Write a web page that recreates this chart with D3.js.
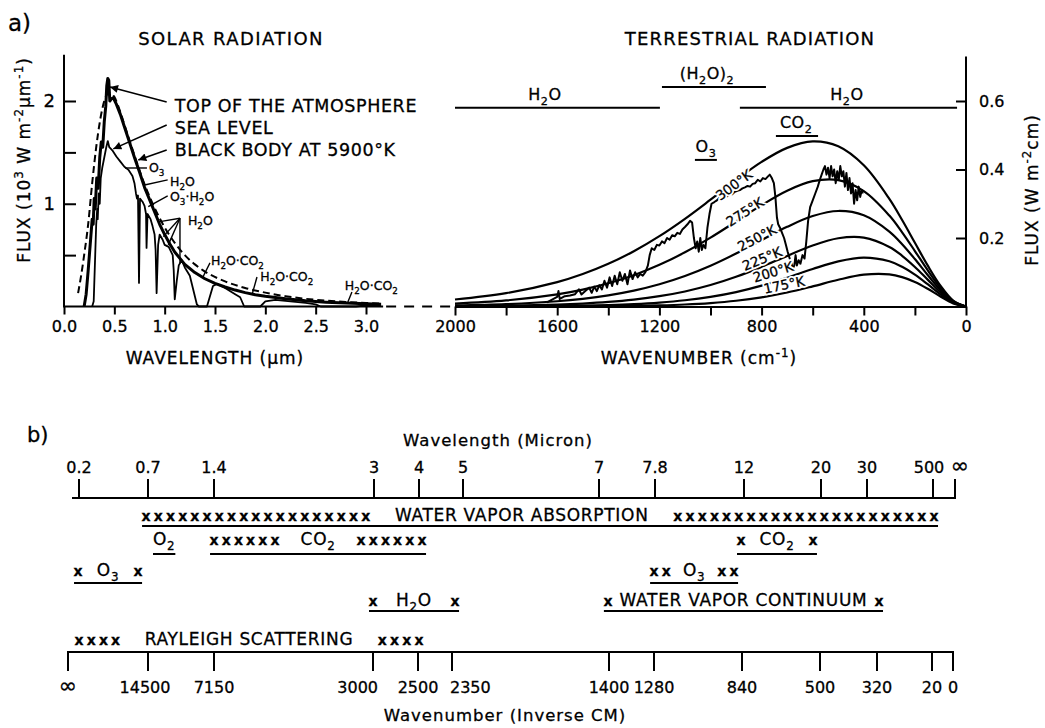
<!DOCTYPE html>
<html>
<head>
<meta charset="utf-8">
<script src="https://d3js.org/d3.v7.min.js"></script>
<style>
body { margin: 0; background: #fff; }
svg text {
  font-family: "DejaVu Sans", Verdana, sans-serif;
  fill: #000;
  stroke: #000;
  stroke-width: 0.3px;
}
svg text.halo { fill: #fff; stroke: #fff; stroke-width: 4px; stroke-linejoin: round; }
</style>
</head>
<body>
<svg width="1045" height="728"></svg>
<script>

// ---------------- data ----------------

// a) solar radiation, wavelength (µm) vs flux (10^3 W m-2 µm-1)
var solarTicks = [0, 0.5, 1, 1.5, 2, 2.5, 3];
var solarFluxTicks = [0.5, 1, 1.5, 2];

var toaSpectrum = [[0.20,0],[0.22,0.12],[0.24,0.35],[0.26,0.6],[0.28,0.85],[0.29,0.8],[0.30,1.05],[0.31,0.95],
  [0.325,1.25],[0.34,1.15],[0.355,1.45],[0.37,1.6],[0.385,1.55],[0.40,1.8],[0.415,1.95],[0.425,2.15],[0.435,2.22],
  [0.445,2.2],[0.455,2.0],[0.47,2.02],[0.49,2.03],[0.52,1.97],[0.56,1.87],[0.60,1.75],[0.65,1.6],[0.70,1.45],
  [0.75,1.31],[0.80,1.16],[0.85,1.04],[0.90,0.92],[0.95,0.8],[1.0,0.7],[1.05,0.61],[1.1,0.53],[1.2,0.41],
  [1.3,0.33],[1.4,0.27],[1.5,0.225],[1.6,0.19],[1.7,0.16],[1.8,0.135],[1.9,0.115],[2.0,0.1],[2.2,0.075],
  [2.4,0.055],[2.6,0.042],[2.8,0.033],[3.0,0.026],[3.15,0.022]];

var seaLevelSpectrum = [[0.28,0],[0.295,0.05],[0.30,0.2],[0.31,0.5],[0.32,0.8],[0.33,0.95],[0.335,0.85],[0.345,1.1],
  [0.355,1.0],[0.365,1.25],[0.38,1.35],[0.40,1.45],[0.42,1.55],[0.435,1.61],[0.45,1.55],[0.48,1.52],[0.52,1.46],
  [0.56,1.41],[0.60,1.36],[0.64,1.33],[0.68,1.27],[0.70,1.2],[0.715,1.1],[0.725,1.05],[0.735,1.08],[0.745,0.23],
  [0.755,1.05],[0.78,1.02],[0.80,0.98],[0.815,0.9],[0.82,0.57],[0.83,0.9],[0.86,0.85],[0.88,0.78],[0.90,0.7],
  [0.91,0.55],[0.92,0.13],[0.935,0.6],[0.95,0.7],[0.98,0.65],[1.0,0.6],[1.04,0.58],[1.08,0.5],[1.09,0.35],
  [1.10,0.07],[1.12,0.25],[1.14,0.4],[1.17,0.45],[1.2,0.38],[1.25,0.3],[1.32,0.02],[1.34,0],[1.42,0],[1.48,0.2],
  [1.52,0.22],[1.6,0.18],[1.7,0.12],[1.75,0.09],[1.79,0],[1.95,0],[2.0,0.05],[2.1,0.065],[2.2,0.055],[2.3,0.045],
  [2.4,0.035],[2.5,0.02],[2.55,0],[2.9,0],[3.0,0.01],[3.15,0.01]];

var blackBody5900 = [[0.14,0.13],[0.17,0.3],[0.20,0.5],[0.24,0.8],[0.28,1.2],[0.32,1.55],[0.36,1.82],[0.40,2.0],
  [0.45,2.08],[0.50,2.04],[0.55,1.92],[0.60,1.77],[0.70,1.47],[0.80,1.19],[0.90,0.96],[1.0,0.77],[1.1,0.62],
  [1.2,0.5],[1.3,0.41],[1.4,0.34],[1.6,0.245],[1.8,0.18],[2.0,0.135],[2.2,0.1],[2.4,0.075],[2.6,0.057],
  [2.8,0.044],[3.0,0.034],[3.15,0.028]];

// a) terrestrial radiation, wavenumber (cm-1) vs flux (W m-2 cm)
var irTicks = [2000, 1800, 1600, 1400, 1200, 1000, 800, 600, 400, 200, 0];
var irLabelled = [2000, 1600, 1200, 800, 400, 0];
var irFluxTicks = [0.2, 0.4, 0.6];

var planckNu = [0,50,100,150,200,250,300,400,500,600,700,800,900,1000,1100,1200,1300,1400,1500,1600,1800,2000];
var planck300 = [0,0.0173,0.0608,0.1199,0.1860,0.2524,0.3142,0.4122,0.4677,0.4819,0.4632,0.4222,0.3690,0.3118,0.2561,0.2054,0.1614,0.1247,0.0949,0.0713,0.0389,0.0204];
var planck275 = [0,0.0156,0.0544,0.1059,0.1620,0.2166,0.2655,0.3369,0.3689,0.3659,0.3381,0.2959,0.2482,0.2010,0.1582,0.1216,0.0915,0.0677,0.0494,0.0355,0.0177,0.0086];
var planck250 = [0,0.0140,0.0481,0.0921,0.1385,0.1818,0.2186,0.2662,0.2789,0.2641,0.2326,0.1937,0.1545,0.1189,0.0889,0.0648,0.0463,0.0325,0.0225,0.0154,0.0069,0.0030];
var planck225 = [0,0.0124,0.0418,0.0785,0.1155,0.1481,0.1739,0.2011,0.1993,0.1781,0.1477,0.1157,0.0867,0.0626,0.0439,0.0301,0.0202,0.0133,0.0086,0.0055,0.0022,0.0008];
var planck200 = [0,0.0108,0.0355,0.0650,0.0931,0.1160,0.1320,0.1428,0.1318,0.1093,0.0840,0.0609,0.0421,0.0281,0.0182,0.0115,0.0071,0.0043,0.0026,0.0015,0.0005,0.0002];
var planck175 = [0,0.0092,0.0293,0.0519,0.0717,0.0859,0.0937,0.0928,0.0780,0.0587,0.0408,0.0267,0.0167,0.0101,0.0059,0.0034,0.0019,0.0010,0.0006,0.0003,0.0001,0];
var planckTemps = ["300°K", "275°K", "250°K", "225°K", "200°K", "175°K"];
// label anchors (cm-1, flux) as they sit on the chart
var planckLabelNu = [908, 865, 818, 798, 755, 712];
var planckLabelF  = [0.355, 0.276, 0.200, 0.139, 0.101, 0.063];

var observedSpectrum = [[1640,0.012],[1620,0.02],[1600,0.028],[1595,0.045],[1590,0.022],[1570,0.03],[1550,0.032],
  [1530,0.036],[1515,0.05],[1505,0.035],[1490,0.045],[1475,0.055],[1465,0.04],[1455,0.058],[1445,0.045],[1435,0.062],
  [1425,0.05],[1415,0.075],[1405,0.055],[1395,0.085],[1385,0.06],[1375,0.09],[1365,0.065],[1355,0.1],[1345,0.075],
  [1335,0.095],[1325,0.065],[1315,0.105],[1305,0.08],[1295,0.1],[1285,0.085],[1275,0.095],[1265,0.09],[1255,0.1],
  [1245,0.12],[1238,0.15],[1230,0.17],[1220,0.165],[1210,0.18],[1200,0.178],[1190,0.19],[1180,0.185],[1170,0.2],
  [1160,0.195],[1150,0.208],[1140,0.205],[1130,0.215],[1120,0.212],[1110,0.225],[1100,0.232],[1090,0.24],[1080,0.25],
  [1072,0.245],[1065,0.2],[1058,0.17],[1052,0.19],[1046,0.16],[1040,0.2],[1034,0.165],[1028,0.18],[1020,0.17],
  [1012,0.23],[1004,0.27],[996,0.3],[985,0.305],[975,0.31],[965,0.318],[955,0.315],[945,0.325],[935,0.322],
  [925,0.33],[915,0.328],[905,0.335],[895,0.338],[885,0.34],[875,0.345],[865,0.348],[855,0.352],[845,0.35],
  [835,0.358],[825,0.36],[815,0.37],[805,0.365],[795,0.375],[785,0.372],[775,0.38],[768,0.385],[760,0.375],
  [752,0.36],[746,0.32],[740,0.26],[735,0.24],[728,0.23],[720,0.215],[712,0.2],[705,0.18],[698,0.16],[690,0.14],
  [684,0.13],[678,0.11],[672,0.12],[667,0.15],[662,0.12],[655,0.135],[648,0.125],[640,0.15],[632,0.14],[625,0.19],
  [618,0.25],[610,0.29],[600,0.31],[590,0.33],[580,0.35],[572,0.37],[565,0.385],[558,0.4],[552,0.41],[546,0.385],
  [540,0.405],[534,0.375],[528,0.41],[522,0.38],[516,0.4],[510,0.36],[504,0.395],[498,0.37],[492,0.41],[486,0.38],
  [480,0.395],[474,0.35],[468,0.39],[462,0.34],[456,0.375],[450,0.33],[444,0.36],[438,0.3],[432,0.34],[426,0.31],
  [420,0.35],[414,0.32],[408,0.34],[404,0.33]];

// absorption band bars over the terrestrial panel (cm-1, flux level)
var irBandLabels = ["H_2O", "(H_2O)_2", "H_2O", "CO_2", "O_3"];
var irBandFrom   = [2000, 1190, 885, 744, 1061];
var irBandTo     = [1198, 783, 35, 579, 975];
var irBandLevel  = [0.58, 0.641, 0.58, 0.498, 0.428];
var irBandText   = [1648, 1014, 466, 665, 1018];

// b) schematic band chart
var wlTickValues = [0.2, 0.7, 1.4, 3, 4, 5, 7, 7.8, 12, 20, 30, 500, 1000];
var wlTickLabels = ["0.2", "0.7", "1.4", "3", "4", "5", "7", "7.8", "12", "20", "30", "500", "∞"];
var wnTickLabels = ["∞", "14500", "7150", "3000", "2500", "2350", "1400", "1280", "840", "500", "320", "20", "0"];

var bandLabels = ["WATER VAPOR ABSORPTION", "O_2", "CO_2", "CO_2", "O_3", "O_3", "H_2O", "WATER VAPOR CONTINUUM", "RAYLEIGH SCATTERING"];
var bandFrom   = [0.657, 0.753, 1.358, 11.67, 0.164, 7.73, 2.95, 7.07, 0.171];   // µm
var bandTo     = [614, 0.99, 4.16, 19.58, 0.657, 11.72, 4.91, 144, 4.09];        // µm
var bandXLeft  = [19, 0, 6, 1, 1, 2, 1, 1, 4];
var bandXRight = [22, 0, 6, 1, 1, 2, 1, 1, 4];
var bandRow    = [0, 1, 1, 1, 2, 2, 3, 3, 4];

// ---------------- layout ----------------
var base = 306.5;
// schematic axes of panel b) are not to any scale: tick spacing as drawn
var wlTickPx = [79, 148, 214, 374, 419, 463, 599, 655, 744, 821, 867, 933, 955];
var wnTickPx = [68, 148, 214, 373, 418, 452, 609, 654, 742, 820, 877, 932, 953];
var wnAnchor = {"3000": ["end", 5], "2350": ["start", -2], "14500": ["middle", -3]};
var rowY = [521, 545, 576, 606, 645];
var rowLine = [526, 554, 583, 611];

var svg = d3.select("svg");

// text with _sub and ^sup markup
function rich(sel, str, size) {
  var re = /([_^])(\{[^}]*\}|.)/g, last = 0, m, parts = [];
  while ((m = re.exec(str))) {
    if (m.index > last) parts.push({t: str.slice(last, m.index), s: 0});
    var t = m[2];
    if (t[0] === "{") t = t.slice(1, -1);
    parts.push({t: t, s: m[1] === "_" ? 1 : -1});
    last = re.lastIndex;
  }
  if (last < str.length) parts.push({t: str.slice(last), s: 0});
  var cur = 0;
  parts.forEach(function(p) {
    var target = p.s === 1 ? size * 0.3 : p.s === -1 ? -size * 0.42 : 0;
    var ts = sel.append("tspan").attr("dy", target - cur).text(p.t);
    if (p.s) ts.style("font-size", (size * 0.7) + "px");
    cur = target;
  });
  return sel;
}

function label(x, y, str, size, anchor, spacing) {
  var t = svg.append("text").attr("x", x).attr("y", y)
    .style("font-size", size + "px")
    .style("letter-spacing", (spacing == null ? 0.8 : spacing) + "px")
    .attr("text-anchor", anchor || "start");
  return rich(t, str, size);
}

function styleAxis(g, size) {
  g.attr("font-family", null).attr("font-size", null);
  g.selectAll("text").style("font-size", size + "px");
  g.selectAll("line").attr("stroke", "#000").attr("stroke-width", 2);
}

svg.append("defs").append("marker")
    .attr("id", "arrow").attr("viewBox", "0 0 10 10")
    .attr("refX", 10).attr("refY", 5)
    .attr("markerWidth", 12).attr("markerHeight", 8)
    .attr("markerUnits", "userSpaceOnUse")
    .attr("orient", "auto")
  .append("path").attr("d", "M0,0L10,5L0,10z").attr("fill", "#000");

// ================= panel a) solar =================
var xL = d3.scaleLinear().domain([0, 3]).range([64, 366]);
var yL = d3.scaleLinear().domain([0, 2]).range([base, 101]);

svg.append("g").attr("transform", "translate(0," + base + ")")
  .call(d3.axisBottom(xL).tickValues(solarTicks).tickFormat(d3.format(".1f")).tickSize(8).tickPadding(6))
  .call(function(g) { g.select(".domain").remove(); styleAxis(g, 16); });

svg.append("g").attr("transform", "translate(64,0)")
  .call(d3.axisLeft(yL).tickValues(solarFluxTicks)
    .tickFormat(function(d) { return d % 1 === 0 ? d : ""; })
    .tickSizeInner(-12).tickSizeOuter(0).tickPadding(9))
  .call(function(g) { g.select(".domain").remove(); styleAxis(g, 18); });

svg.append("line").attr("x1", xL(0)).attr("x2", xL(0)).attr("y1", yL(0) + 1).attr("y2", yL(2.45))
  .attr("stroke", "#000").attr("stroke-width", 2);
svg.append("line").attr("x1", xL(0)).attr("x2", xL(3.17)).attr("y1", base).attr("y2", base)
  .attr("stroke", "#000").attr("stroke-width", 2);

var lineL = d3.line().x(function(d) { return xL(d[0]); }).y(function(d) { return yL(d[1]); });

svg.append("path").datum(blackBody5900)
  .attr("d", lineL.curve(d3.curveMonotoneX)).attr("fill", "none")
  .attr("stroke", "#000").attr("stroke-width", 2).attr("stroke-dasharray", "7,4");
lineL.curve(d3.curveLinear);
svg.append("path").datum(seaLevelSpectrum).attr("d", lineL).attr("fill", "none")
  .attr("stroke", "#000").attr("stroke-width", 1.8).attr("stroke-linejoin", "round");
svg.append("path").datum(toaSpectrum).attr("d", lineL).attr("fill", "none")
  .attr("stroke", "#000").attr("stroke-width", 3).attr("stroke-linejoin", "round");

// labels with arrows
var solarLegend = ["TOP OF THE ATMOSPHERE", "SEA LEVEL", "BLACK BODY AT 5900°K"];
var legendF = [1.894, 1.68, 1.465];
var arrowFrom = [[1.02, 1.99], [1.02, 1.767], [1.02, 1.524]];
var arrowTo = [[0.457, 2.137], [0.49, 1.534], [0.738, 1.426]];
solarLegend.forEach(function(s, i) {
  label(xL(1.10), yL(legendF[i]), s, 17.5, "start", 0.6);
  svg.append("line")
    .attr("x1", xL(arrowFrom[i][0])).attr("y1", yL(arrowFrom[i][1]))
    .attr("x2", xL(arrowTo[i][0])).attr("y2", yL(arrowTo[i][1]))
    .attr("stroke", "#000").attr("stroke-width", 1.6).attr("marker-end", "url(#arrow)");
});

var solarNotes = [
  {t: "O_3", at: [0.844, 1.31], lines: [[[0.606, 1.348], [0.824, 1.348]]]},
  {t: "H_2O", at: [1.053, 1.173], lines: [[[1.03, 1.232], [0.80, 1.183]]]},
  {t: "O_3·H_2O", at: [1.053, 1.027], lines: [[[1.03, 1.076], [0.837, 0.972]]]},
  {t: "H_2O", at: [1.231, 0.794], lines: [[[1.152, 0.859], [0.953, 0.826]], [[1.152, 0.859], [0.986, 0.68]],
      [[1.152, 0.859], [1.036, 0.6]], [[1.152, 0.859], [1.152, 0.42]]]},
  {t: "H_2O·CO_2", at: [1.46, 0.405], lines: [[[1.45, 0.424], [1.38, 0.287]]]},
  {t: "H_2O·CO_2", at: [1.95, 0.245], lines: [[[1.917, 0.287], [1.867, 0.112]]]},
  {t: "H_2O·CO_2", at: [2.79, 0.161], lines: [[[2.86, 0.141], [2.82, 0.044]]]}
];
solarNotes.forEach(function(n) {
  label(xL(n.at[0]), yL(n.at[1]), n.t, 12.5, "start", 0);
  n.lines.forEach(function(l) {
    svg.append("line").attr("x1", xL(l[0][0])).attr("y1", yL(l[0][1]))
      .attr("x2", xL(l[1][0])).attr("y2", yL(l[1][1]))
      .attr("stroke", "#000").attr("stroke-width", 1.4);
  });
});

// ================= panel a) terrestrial =================
var xR = d3.scaleLinear().domain([2000, 0]).range([455, 966]);
var yR = d3.scaleLinear().domain([0, 0.6]).range([base, 101]);

// broken-axis dashes between the two panels
svg.append("line").attr("x1", xL(3.17) + 3).attr("x2", xR(2000)).attr("y1", base).attr("y2", base)
  .attr("stroke", "#000").attr("stroke-width", 2).attr("stroke-dasharray", "10,8");

svg.append("g").attr("transform", "translate(0," + base + ")")
  .call(d3.axisBottom(xR).tickValues(irTicks)
    .tickFormat(function(d) { return irLabelled.indexOf(d) >= 0 ? d : ""; })
    .tickSize(9).tickSizeOuter(0).tickPadding(5))
  .call(function(g) { styleAxis(g, 16); g.select(".domain").attr("stroke", "#000").attr("stroke-width", 2); });

svg.append("g").attr("transform", "translate(966,0)")
  .call(d3.axisRight(yR).tickValues(irFluxTicks).tickFormat(d3.format(".1f"))
    .tickSizeInner(-10).tickSizeOuter(0).tickPadding(13))
  .call(function(g) { g.select(".domain").remove(); styleAxis(g, 16); });
svg.append("line").attr("x1", 966).attr("x2", 966).attr("y1", yR(0) + 1).attr("y2", yR(0.73))
  .attr("stroke", "#000").attr("stroke-width", 2);

var lineR = d3.line().x(function(d) { return xR(d[0]); }).y(function(d) { return yR(d[1]); });
var planckCurves = [planck300, planck275, planck250, planck225, planck200, planck175];
svg.selectAll(".planck").data(planckCurves).enter().append("path")
  .attr("class", "planck").attr("fill", "none").attr("stroke", "#000").attr("stroke-width", 2.2)
  .attr("d", function(f) {
    return lineR.curve(d3.curveCatmullRom)(planckNu.map(function(n, i) { return [n, f[i]]; }));
  });

svg.append("path").datum(observedSpectrum).attr("d", lineR.curve(d3.curveLinear))
  .attr("fill", "none").attr("stroke", "#000").attr("stroke-width", 2).attr("stroke-linejoin", "round");

// temperature labels, rotated to the local slope of their curve, curves broken under them
function fluxAt(f, nu) {
  var i = d3.bisectRight(planckNu, nu) - 1;
  var t = (nu - planckNu[i]) / (planckNu[i + 1] - planckNu[i]);
  return f[i] + t * (f[i + 1] - f[i]);
}
planckTemps.forEach(function(s, i) {
  var f = planckCurves[i], nu = planckLabelNu[i];
  var ang = Math.atan2(yR(fluxAt(f, nu - 60)) - yR(fluxAt(f, nu + 60)), xR(nu - 60) - xR(nu + 60)) * 180 / Math.PI;
  var tr = "translate(" + xR(nu) + "," + yR(planckLabelF[i]) + ") rotate(" + ang + ")";
  svg.append("text").attr("class", "halo").attr("transform", tr)
    .attr("text-anchor", "middle").attr("dy", "0.35em").style("font-size", "13.5px").text(s);
  svg.append("text").attr("transform", tr)
    .attr("text-anchor", "middle").attr("dy", "0.35em").style("font-size", "13.5px").text(s);
});

// absorber bars
irBandLabels.forEach(function(s, i) {
  svg.append("line").attr("x1", xR(irBandFrom[i])).attr("x2", xR(irBandTo[i]))
    .attr("y1", yR(irBandLevel[i])).attr("y2", yR(irBandLevel[i]))
    .attr("stroke", "#000").attr("stroke-width", 2);
  label(xR(irBandText[i]), yR(irBandLevel[i]) - 8, s, 16, "middle", 0.5);
});

// titles
label(8, 31, "a)", 23, "start", 0);
label(231, 45, "SOLAR RADIATION", 18, "middle", 1.4);
label(750, 45, "TERRESTRIAL RADIATION", 18, "middle", 1.2);
label(215, 364, "WAVELENGTH (µm)", 17, "middle", 1);
label(699, 364, "WAVENUMBER (cm^{-1})", 17, "middle", 1);

var yl = svg.append("text").attr("transform", "translate(30,160) rotate(-90)")
  .attr("text-anchor", "middle").style("font-size", "17px").style("letter-spacing", "1px");
rich(yl, "FLUX (10^3 W m^{-2}µm^{-1})", 17);
var yr = svg.append("text").attr("transform", "translate(1038,190) rotate(-90)")
  .attr("text-anchor", "middle").style("font-size", "17px").style("letter-spacing", "1px");
rich(yr, "FLUX (W m^{-2}cm)", 17);

// ================= panel b) =================
label(27, 442, "b)", 21, "start", 0);
label(498, 446, "Wavelength (Micron)", 16.5, "middle", 1);
label(505, 721, "Wavenumber (Inverse CM)", 16.5, "middle", 1);

var xWl = d3.scaleLinear().domain(wlTickValues).range(wlTickPx);
var topY = 498, botY = 652;

svg.append("line").attr("x1", 72).attr("x2", xWl(1000)).attr("y1", topY).attr("y2", topY)
  .attr("stroke", "#000").attr("stroke-width", 2);
svg.selectAll(".wltick").data(wlTickValues).enter().append("line")
  .attr("x1", function(d) { return xWl(d); }).attr("x2", function(d) { return xWl(d); })
  .attr("y1", topY + 1).attr("y2", topY - 19)
  .attr("stroke", "#000").attr("stroke-width", 2);
svg.selectAll(".wllab").data(wlTickLabels).enter().append("text")
  .attr("x", function(d, i) { return xWl(wlTickValues[i]) + (d === "∞" ? 5 : d === "500" ? -4 : 0); })
  .attr("y", 473).attr("text-anchor", "middle")
  .style("font-size", function(d) { return d === "∞" ? "22px" : "16px"; })
  .text(function(d) { return d; });

svg.append("line").attr("x1", wnTickPx[0]).attr("x2", wnTickPx[wnTickPx.length - 1])
  .attr("y1", botY).attr("y2", botY).attr("stroke", "#000").attr("stroke-width", 2);
svg.selectAll(".wntick").data(wnTickPx).enter().append("line")
  .attr("x1", function(d) { return d; }).attr("x2", function(d) { return d; })
  .attr("y1", botY - 1).attr("y2", botY + 19)
  .attr("stroke", "#000").attr("stroke-width", 2);
svg.selectAll(".wnlab").data(wnTickLabels).enter().append("text")
  .attr("x", function(d, i) { return wnTickPx[i] + (wnAnchor[d] ? wnAnchor[d][1] : 0); })
  .attr("y", 693)
  .attr("text-anchor", function(d) { return wnAnchor[d] ? wnAnchor[d][0] : "middle"; })
  .style("font-size", function(d) { return d === "∞" ? "22px" : "16px"; })
  .text(function(d) { return d; });

// bands with x-runs and underline
var xStep = 12.2;
bandLabels.forEach(function(s, i) {
  var x0 = xWl(bandFrom[i]), x1 = xWl(bandTo[i]), y = rowY[bandRow[i]];
  var inner0 = x0, inner1 = x1;
  for (var k = 0; k < bandXLeft[i]; k++) {
    svg.append("text").attr("x", x0 + 4 + k * xStep).attr("y", y).attr("text-anchor", "middle")
      .style("font-size", "14px").style("font-weight", "bold").text("x");
  }
  for (k = 0; k < bandXRight[i]; k++) {
    svg.append("text").attr("x", x1 - 4 - k * xStep).attr("y", y).attr("text-anchor", "middle")
      .style("font-size", "14px").style("font-weight", "bold").text("x");
  }
  if (bandXLeft[i]) inner0 = x0 + 8 + (bandXLeft[i] - 1) * xStep;
  if (bandXRight[i]) inner1 = x1 - 8 - (bandXRight[i] - 1) * xStep;
  label((inner0 + inner1) / 2, y, s, 17, "middle", 0.7);
  if (bandRow[i] < rowLine.length) {
    svg.append("line").attr("x1", x0).attr("x2", x1)
      .attr("y1", rowLine[bandRow[i]]).attr("y2", rowLine[bandRow[i]])
      .attr("stroke", "#000").attr("stroke-width", 2);
  }
});

</script>
</body>
</html>
